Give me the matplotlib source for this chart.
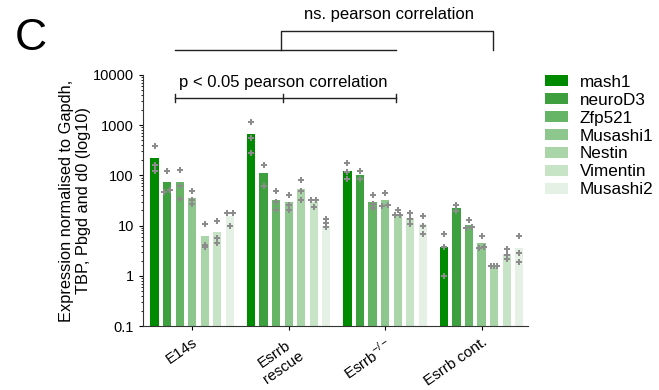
import matplotlib
matplotlib.use('Agg')
import matplotlib.pyplot as plt
import matplotlib.ticker as mticker
import numpy as np

plt.rcParams['font.family'] = ['Liberation Sans', 'DejaVu Sans']
plt.rcParams['mathtext.fontset'] = 'custom'
plt.rcParams['mathtext.rm'] = 'Liberation Sans'

groups = ['E14s', 'Esrrb\nrescue', 'Esrrb$^{\\mathrm{-/-}}$', 'Esrrb cont.']
genes = ['mash1', 'neuroD3', 'Zfp521', 'Musashi1', 'Nestin', 'Vimentin', 'Musashi2']
colors = ['#008a00', '#3d9f3d', '#66b466', '#8dc78d', '#a9d5a9', '#c7e4c7', '#e4f1e4']

# mean bar heights, one list per group (genes in order)
e14s = [220, 73, 73, 35.6, 6.2, 7.4, 15.6]
rescue = [670, 111, 33, 29, 54, 29, 9.8]
knockout = [124, 100, 30, 32, 17, 13.9, 10.9]
control = [3.75, 21.9, 10.2, 4.4, 1.53, 2.7, 3.6]

# individual replicates (grey points)
e14s_pts = [[388, 158, 120], [120, 47, 51], [125, 61, 34], [49, 32, 27],
            [10.7, 4.2, 3.8], [12.5, 5.6, 4.6], [18.2, 18.2, 9.6]]
rescue_pts = [[1150, 565, 273], [163, 60], [49, 30, 20], [41, 26, 20.6],
              [82, 48, 32], [33, 33, 23], [13.6, 11, 9.5]]
knockout_pts = [[173, 115, 85], [120, 83], [40, 27, 22], [45.5, 25.5, 24],
                [20, 16.4, 16.4], [17.4, 13.6, 10.9], [15.4, 9.9, 6.9]]
control_pts = [[6.7, 3.75, 1.0], [25.5, 19.1], [13, 9.2, 8.8], [6.3, 3.7, 3.5],
               [1.55, 1.55, 1.55], [3.4, 2.6, 2.2], [6.3, 2.9, 1.9]]

bars = [e14s, rescue, knockout, control]
points = [e14s_pts, rescue_pts, knockout_pts, control_pts]

fig = plt.figure(figsize=(6.59, 3.9), dpi=100)
ax = fig.add_axes([0.217, 0.164, 0.584, 0.644])

step = 0.13
width = 0.085
xg = np.arange(len(groups))
for j, gene in enumerate(genes):
    xs = xg + (j - 3) * step
    vals = [b[j] for b in bars]
    ax.bar(xs, vals, width=width, color=colors[j], label=gene, zorder=1)
    for i in range(len(groups)):
        pts = np.array(points[i][j])
        offs = np.zeros(len(pts))
        order = np.argsort(pts)
        for a, b in zip(order[:-1], order[1:]):
            if abs(np.log10(pts[b]) - np.log10(pts[a])) < 0.04:
                offs[a] -= 0.028
                offs[b] += 0.028
        ax.plot(xs[i] + offs, pts, 'P', color='#8c8c8c', ms=4.2, mew=0,
                zorder=3, clip_on=False)

ax.set_yscale('log')
ax.set_ylim(0.1, 10000)
ax.set_xlim(-0.51, 3.48)
ax.yaxis.set_major_formatter(mticker.FuncFormatter(lambda v, p: '{:g}'.format(v)))
ax.yaxis.set_minor_locator(mticker.LogLocator(base=10, subs=np.arange(2, 10)))
ax.set_xticks(xg)
ax.set_xticklabels(groups, rotation=35, ha='right', rotation_mode='anchor', fontsize=11,
                   multialignment='center')
ax.tick_params(axis='y', labelsize=10.5, length=3, width=0.8)
ax.tick_params(axis='y', which='minor', length=1.8, width=0.6)
ax.tick_params(axis='x', length=3, width=0.8)
ax.spines['top'].set_visible(False)
ax.spines['right'].set_visible(False)
ax.spines['left'].set_color('#333333')
ax.spines['bottom'].set_color('#333333')
ax.set_ylabel('Expression normalised to Gapdh,\nTBP, Pbgd and d0 (log10)', fontsize=11.8,
              labelpad=1)

# significance brackets
tr = ax.get_xaxis_transform()
lw = 1.0
ax.plot([-0.18, 2.11], [1.10, 1.10], color='#222222', lw=lw, transform=tr, clip_on=False)
ax.plot([0.92, 0.92, 3.12, 3.12], [1.10, 1.175, 1.175, 1.10], color='#222222', lw=lw,
        transform=tr, clip_on=False)
ax.text(2.04, 1.21, 'ns. pearson correlation', fontsize=12, ha='center', va='bottom',
        transform=tr)
ax.plot([-0.18, 2.11], [0.908, 0.908], color='#222222', lw=lw, transform=tr, clip_on=False)
for xb in [-0.18, 0.94, 2.11]:
    ax.plot([xb, xb], [0.892, 0.924], color='#222222', lw=lw, transform=tr, clip_on=False)
ax.text(0.94, 0.94, 'p < 0.05 pearson correlation', fontsize=12, ha='center', va='bottom',
        transform=tr)

fig.text(0.022, 0.955, 'C', fontsize=32, va='top', ha='left')

leg = ax.legend(loc='upper left', bbox_to_anchor=(1.044, 1.0), frameon=False, fontsize=12.3,
                handlelength=1.35, handleheight=0.6, labelspacing=0.17, handletextpad=0.7,
                borderpad=0, borderaxespad=0)

fig.savefig('out.png', dpi=100)
